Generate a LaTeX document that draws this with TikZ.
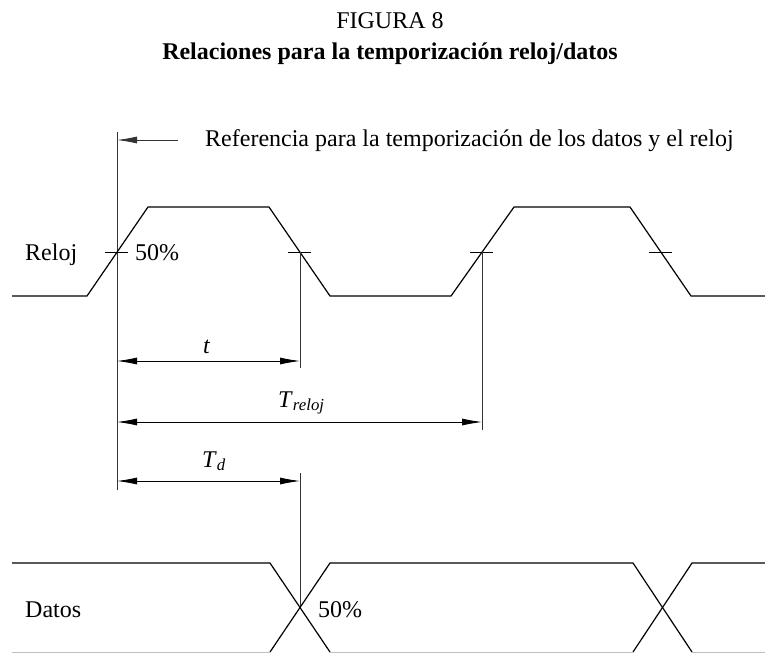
\documentclass[tikz,border=0pt]{standalone}
\usepackage{fontspec}
\setmainfont{Liberation Serif}
\usetikzlibrary{arrows.meta}

\begin{document}
\begin{tikzpicture}[x=1pt,y=-1pt]
\tikzstyle{signal}=[draw, line width=1.2pt, line join=miter]
\tikzstyle{tick}=[draw, line width=0.8pt]
\tikzstyle{guide}=[draw, line width=0.8pt, black!80]
\tikzstyle{dim}=[draw, line width=0.8pt, {Latex[length=20pt,width=7pt]}-{Latex[length=20pt,width=7pt]}]
\tikzstyle{label}=[inner sep=0pt, font=\fontsize{24}{28}\selectfont]

\useasboundingbox (0,0) rectangle (765,653);

% Titles
\node[label, anchor=base] (figura) at (390,28) {FIGURA 8};
\node[label, anchor=base, font=\fontsize{24}{28}\selectfont\bfseries] (titulo) at (390,59) {Relaciones para la temporización reloj/datos};

% Reference line
\coordinate (reftop) at (117,132);
\coordinate (refbot) at (117,490);
\coordinate (refhit) at (117,140);
\coordinate (reftail) at (178,140);
\draw[guide] (reftop) -- (refbot);
\draw[guide, -{Latex[length=20pt,width=7pt]}] (reftail) -- (refhit);
\node[label, anchor=base west] (reftext) at (205,146) {Referencia para la temporización de los datos y el reloj};

% Clock
\node[label, anchor=base west] (reloj) at (25,260) {Reloj};
\draw[signal] (12,296) -- (87,296) -- (148,207) -- (269,207) -- (330,296)
  -- (451,296) -- (514,207) -- (630,207) -- (691,296) -- (765,296);
\node[label, anchor=base west] (pcreloj) at (135,260) {50\%};

% 50% marks
\coordinate (c1) at (117,252);
\coordinate (c2) at (300,252);
\coordinate (c3) at (482,252);
\coordinate (c4) at (661,252);
\foreach \c in {c1,c2,c3,c4}
  \draw[tick] ([xshift=-12pt]\c) -- ([xshift=11pt]\c);

% Extension lines
\coordinate (c2bot) at (300,368);
\coordinate (c3bot) at (482,430);
\draw[guide] (c2) -- (c2bot);
\draw[guide] (c3) -- (c3bot);

% Dimensions
\coordinate (ta) at (117,361);
\coordinate (tb) at (300,361);
\coordinate (tra) at (117,422);
\coordinate (trb) at (482,422);
\coordinate (tda) at (117,481);
\coordinate (tdb) at (300,481);
\draw[dim] (ta) -- (tb);
\draw[dim] (tra) -- (trb);
\draw[dim] (tda) -- (tdb);
\node[label, anchor=base west] (tlab) at (203,353) {\textit{t}};
\node[label, anchor=base west] (trlab) at (278,407) {\textit{T}\textsubscript{\textit{reloj}}};
\node[label, anchor=base west] (tdlab) at (202,467) {\textit{T}\textsubscript{\textit{d}}};

% Data
\node[label, anchor=base west] (datos) at (25,617) {Datos};
\coordinate (dcross) at (300,608);
\coordinate (dtop) at (300,473);
\draw[guide] (dtop) -- (dcross);
\draw[signal] (12,563) -- (270,563) -- (330,652);
\draw[signal] (270,652) -- (330,563) -- (633,563) -- (692,652);
\draw[signal] (633,652) -- (692,563) -- (765,563);
\draw[line width=1pt, black!25] (12,652) -- (270,652) (330,652) -- (633,652) (692,652) -- (765,652);
\node[label, anchor=base west] (pcdatos) at (318,617) {50\%};
\end{tikzpicture}
\end{document}
